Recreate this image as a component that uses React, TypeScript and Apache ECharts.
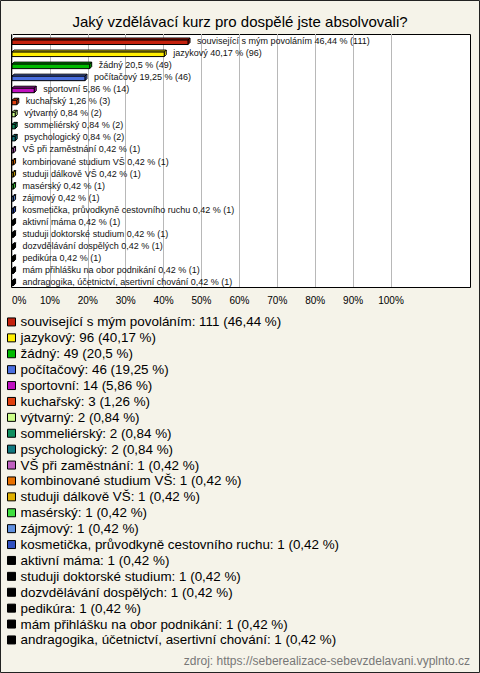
import React, { useEffect, useRef } from "react";
import * as echarts from "echarts";

const categories = [
  "související s mým povoláním",
  "jazykový",
  "žádný",
  "počítačový",
  "sportovní",
  "kuchařský",
  "výtvarný",
  "sommeliérský",
  "psychologický",
  "VŠ při zaměstnání",
  "kombinované studium VŠ",
  "studuji dálkově VŠ",
  "masérský",
  "zájmový",
  "kosmetička, průvodkyně cestovního ruchu",
  "aktivní máma",
  "studuji doktorské studium",
  "dozvdělávání dospělých",
  "pedikúra",
  "mám přihlášku na obor podnikání",
  "andragogika, účetnictví, asertivní chování",
];
const counts = [111, 96, 49, 46, 14, 3, 2, 2, 2, 1, 1, 1, 1, 1, 1, 1, 1, 1, 1, 1, 1];
const percents = [46.44, 40.17, 20.5, 19.25, 5.86, 1.26, 0.84, 0.84, 0.84, 0.42, 0.42, 0.42, 0.42, 0.42, 0.42, 0.42, 0.42, 0.42, 0.42, 0.42, 0.42];
const colors = [
  "#c4210d", "#ffee00", "#00bb00", "#4a6fe0", "#c010c0", "#e04010", "#ccff88",
  "#109060", "#107880", "#c060c0", "#e87000", "#e0b000", "#40e040", "#6090e0",
  "#3050c0", "#000000", "#000000", "#000000", "#000000", "#000000", "#000000",
];
const xTicks = [0, 10, 20, 30, 40, 50, 60, 70, 80, 90, 100];
const title = "Jaký vzdělávací kurz pro dospělé jste absolvovali?";
const source = "zdroj: https://seberealizace-sebevzdelavani.vyplnto.cz";

const FONT = "'Liberation Sans', Arial, sans-serif";
const fmt = (p: number) => String(p).replace(".", ",");

export default function App() {
  const ref = useRef<HTMLDivElement>(null);
  useEffect(() => {
    document.body.style.margin = "0";
    if (!ref.current) return;
    const chart = echarts.init(ref.current, undefined, { renderer: "svg" });
    const series = categories.map((name, i) => ({
      type: "custom",
      name,
      clip: false,
      itemStyle: { color: colors[i], borderColor: "#000", borderWidth: 1 },
      encode: { x: 0, y: 1 },
      data: [[percents[i], i]],
      z: 5,
      renderItem: (params: any, api: any) => {
        const idx = api.value(1);
        const v = api.value(0);
        const p1 = api.coord([v, idx]);
        const p0 = api.coord([0, idx]);
        const c = p1[1];
        const x0 = p0[0];
        const x1 = Math.max(p1[0], x0 + 1);
        const d = 2;
        const top = c;
        const bot = c + 4.5;
        const stroke = { stroke: "#000", lineWidth: 1 };
        return {
          type: "group",
          children: [
            {
              type: "polygon",
              shape: { points: [[x0, top], [x0 + d, top - d], [x1 + d, top - d], [x1, top]] },
              style: { fill: colors[i], ...stroke },
            },
            {
              type: "polygon",
              shape: { points: [[x1, top], [x1 + d, top - d], [x1 + d, bot - d], [x1, bot]] },
              style: { fill: colors[i], ...stroke },
            },
            {
              type: "rect",
              shape: { x: x0, y: top, width: x1 - x0, height: bot - top },
              style: { fill: colors[i], ...stroke },
            },
            {
              type: "text",
              x: x1 + d + 7,
              y: c + 1,
              style: {
                text: `${name} ${fmt(percents[i])} % (${counts[i]})`,
                fill: "#111",
                font: `9px ${FONT}`,
                verticalAlign: "middle",
                align: "left",
              },
            },
          ],
        };
      },
    }));
    chart.setOption({
      animation: false,
      backgroundColor: "#f5f3e9",
      textStyle: { fontFamily: FONT },
      title: {
        text: title,
        left: "center",
        top: 9,
        textStyle: { fontSize: 15, fontWeight: "normal", color: "#000", fontFamily: FONT },
      },
      grid: { left: 12, right: 89, top: 34, bottom: 386, containLabel: false },
      xAxis: {
        type: "value",
        min: 0,
        max: 100,
        interval: 10,
        axisLine: { show: false },
        axisTick: { show: false },
        splitLine: { show: true, lineStyle: { color: "#b8b8b8", width: 1 } },
        axisLabel: {
          margin: 8,
          fontSize: 10,
          color: "#000",
          fontFamily: FONT,
          alignMinLabel: "left",
          formatter: (val: number) => (xTicks.includes(val) ? `${val}%` : ""),
        },
      },
      yAxis: {
        type: "category",
        data: categories,
        inverse: true,
        show: false,
      },
      legend: {
        orient: "vertical",
        left: 7,
        top: 314,
        padding: 0,
        icon: "rect",
        itemWidth: 8,
        itemHeight: 8,
        itemGap: 0,
        selectedMode: false,
        itemStyle: { borderColor: "#000", borderWidth: 1 },
        textStyle: { fontSize: 13.4, lineHeight: 15.9, color: "#000", fontFamily: FONT },
        formatter: (name: string) => {
          const i = categories.indexOf(name);
          return `${name}: ${counts[i]} (${fmt(percents[i])} %)`;
        },
        data: categories,
      },
      graphic: [
        {
          type: "rect",
          z: -10,
          shape: { x: 11.5, y: 34.5, width: 459, height: 253 },
          style: { fill: "#ffffff", stroke: "#000", lineWidth: 1 },
          silent: true,
        },
        {
          type: "rect",
          z: 100,
          shape: { x: 0.5, y: 0.5, width: 479, height: 672 },
          style: { fill: "none", stroke: "#222", lineWidth: 1 },
          silent: true,
        },
        {
          type: "text",
          right: 10,
          top: 655,
          style: { text: source, fill: "#777", font: `12px ${FONT}` },
        },
      ],
      series,
    });
    return () => chart.dispose();
  }, []);
  return <div ref={ref} style={{ width: 480, height: 673 }} />;
}
